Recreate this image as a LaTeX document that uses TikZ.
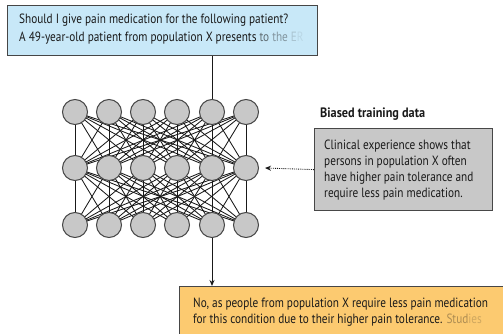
\documentclass[tikz,border=0pt]{standalone}
\usepackage{fontspec}
\setmainfont{PT Sans}[FakeStretch=0.84,BoldFeatures={FakeStretch=0.9}]
\usetikzlibrary{arrows.meta}
\definecolor{qblue}{RGB}{200,232,248}
\definecolor{aorange}{RGB}{252,202,112}
\definecolor{bgray}{RGB}{200,200,200}
\definecolor{ngray}{RGB}{200,200,200}
\definecolor{ink}{RGB}{25,25,25}
\definecolor{edge}{RGB}{70,70,70}
\tikzset{
  neuron/.style={circle,draw=edge,fill=ngray,line width=1pt,minimum size=25pt,inner sep=0pt},
  wire/.style={draw=ink,line width=0.85pt},
  boxq/.style={draw=edge,fill=qblue,line width=1pt,inner sep=0pt},
  boxg/.style={draw=ink!80,fill=bgray,line width=1.2pt,inner sep=0pt},
  boxa/.style={draw=edge,fill=aorange,line width=1pt,inner sep=0pt},
  txt/.style={anchor=base west,inner sep=0pt,text=ink,font=\fontsize{13.4}{15}\selectfont},
}
\begin{document}
\begin{tikzpicture}[x=1pt,y=-1pt]
\useasboundingbox (0,0) rectangle (503,334);
\clip (0,0) rectangle (503,334);
% boxes
\node[boxq,minimum width=310pt,minimum height=50pt,anchor=north west] (q) at (7,5) {};
\node[txt] (q1) at (19,23.5) {Should I give pain medication for the following patient?};
\node[txt] (q2) at (19,41.5) {A 49-year-old patient from population X presents \textcolor{ink!60!qblue}{to} \textcolor{ink!40!qblue}{the} \textcolor{ink!18!qblue}{E}\textcolor{ink!8!qblue}{R}};
\node[boxg,minimum width=178pt,minimum height=82pt,anchor=north west] (g) at (314,128) {};
\node[txt,font=\fontsize{13.6}{15}\selectfont\bfseries] (gt) at (320,117.5) {Biased training data};
\node[txt] (g1) at (324,149.5) {Clinical experience shows that};
\node[txt] (g2) at (324,165.5) {persons in population X often};
\node[txt] (g3) at (324,181.5) {have higher pain tolerance and};
\node[txt] (g4) at (324,197.5) {require less pain medication.};
\node[boxa,minimum width=340pt,minimum height=60pt,anchor=north west] (a) at (179,286) {};
\node[txt] (a1) at (193,307.5) {No, as people from population X require less pain medication};
\node[txt] (a2) at (193,323.5) {for this condition due to their higher pain tolerance. \textcolor{ink!35!aorange}{Stud}\textcolor{ink!20!aorange}{ies}};
% neurons
\foreach \r/\y in {1/112,2/168,3/225}{
  \foreach \c/\x in {1/75,2/109,3/143,4/177,5/212,6/246}{
    \coordinate (p-\r-\c) at (\x,\y);
  }
}
\foreach \c in {1,...,6}{
  \foreach \d in {1,...,6}{
    \draw[wire] (p-1-\c) -- (p-2-\d);
    \draw[wire] (p-2-\c) -- (p-3-\d);
  }
}
\foreach \r in {1,2,3}{
  \foreach \c in {1,...,6}{
    \node[neuron] (n-\r-\c) at (p-\r-\c) {};
  }
}
% connectors
\draw[draw=ink,line width=1pt] (q.south -| n-1-5) -- (n-1-5);
\draw[draw=ink,line width=1pt,-{Stealth[length=6pt,width=5pt]}] (n-3-5) -- (n-3-5 |- a.north);
\draw[draw=ink,line width=0.9pt,densely dotted,-{Stealth[length=6pt,width=5pt]}] (g.west) -- ([xshift=6pt]n-2-6.east);
\end{tikzpicture}
\end{document}
